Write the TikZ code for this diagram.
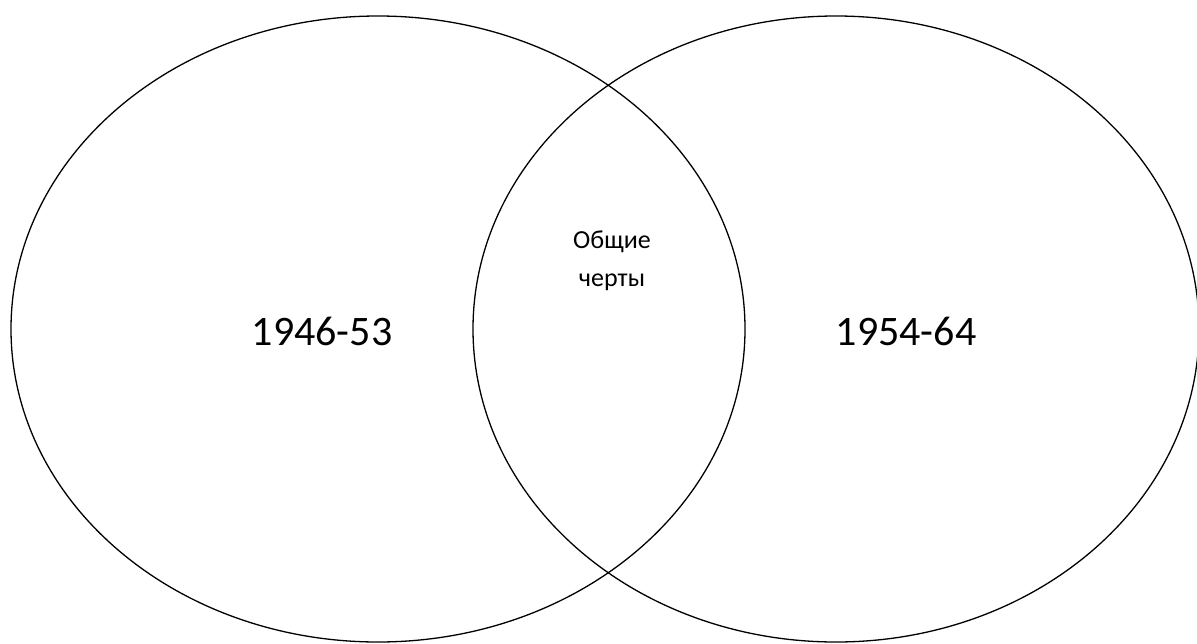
\documentclass[tikz,border=0pt]{standalone}
\usepackage{fontspec}
\setmainfont{Carlito}
\usetikzlibrary{shapes.geometric}

\begin{document}
\begin{tikzpicture}[
      x=1pt, y=-1pt,
      oval/.style={draw=black, ellipse, line width=1.3pt, inner sep=0pt},
      period/.style={font=\fontsize{42}{50}\selectfont},
      common/.style={font=\fontsize{26}{38}\selectfont, align=center},
    ]
    \useasboundingbox (0,0) rectangle (1197,643);

    %% Two overlapping ovals
    \node[oval, minimum width=734, minimum height=626] (left)  at (378, 329) {};
    \node[oval, minimum width=726, minimum height=626] (right) at (836, 329) {};

    %% Labels
    \node[period] (early) at (322, 331) {1946-53};
    \node[period] (late)  at (906, 331) {1954-64};
    \node[common] (both)  at (612, 261) {Общие\\черты};
  \end{tikzpicture}
\end{document}
